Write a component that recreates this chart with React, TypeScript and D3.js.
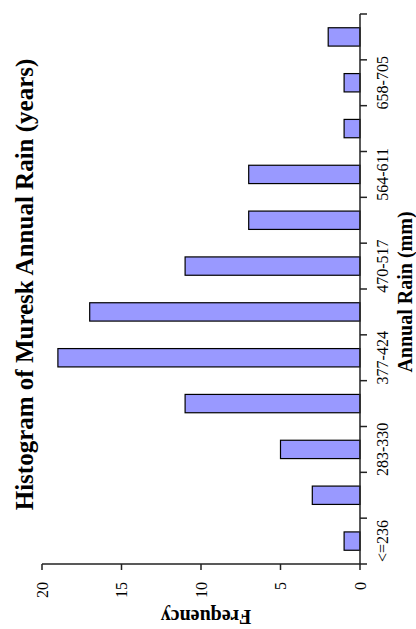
import React from "react";
import * as d3 from "d3";

const categories = ["<=236", "236-283", "283-330", "330-377", "377-424", "424-470", "470-517", "517-564", "564-611", "611-658", "658-705", ">705"];
const frequencies = [1, 3, 5, 11, 19, 17, 11, 7, 7, 1, 1, 2];
const valueTicks = [0, 5, 10, 15, 20];
const titleText = "Histogram of Muresk Annual Rain (years)";
const xTitle = "Annual Rain (mm)";
const yTitle = "Frequency";

const W = 416;
const H = 629;
const FONT = "'Liberation Serif', 'Times New Roman', serif";

export default function App() {
  // Drawn in the un-rotated frame (u along the category axis, v downward), then rotated -90deg.
  const uLeft = 65;
  const uRight = 615;
  const vTop = 42;
  const vBase = 360;

  const x = d3.scaleBand<string>().domain(categories).range([uLeft, uRight]).paddingInner(0.6).paddingOuter(0.3);
  const y = d3.scaleLinear().domain([0, 20]).range([vBase, vTop]);
  const step = x.step();
  const boundaries = d3.range(categories.length + 1).map((i) => uLeft + i * ((uRight - uLeft) / categories.length));

  const axisColor = "#222";

  return (
    <svg width={W} height={H} style={{ position: "absolute", left: 0, top: 0, background: "#fff" }}>
      <g transform={`translate(0,${H}) rotate(-90)`}>
        <text x={344.5} y={33} textAnchor="middle" fontFamily={FONT} fontWeight="bold" fontSize={25} fill="#000">
          {titleText}
        </text>

        {categories.map((c, i) => {
          const bx = uLeft + i * ((uRight - uLeft) / categories.length) + ((uRight - uLeft) / categories.length - x.bandwidth()) / 2;
          return (
            <rect
              key={c}
              x={bx}
              y={y(frequencies[i])}
              width={x.bandwidth()}
              height={vBase - y(frequencies[i])}
              fill="#9999ff"
              stroke="#000"
              strokeWidth={1.2}
            />
          );
        })}

        {/* value axis */}
        <line x1={uLeft} x2={uLeft} y1={vTop} y2={vBase} stroke={axisColor} strokeWidth={1.5} />
        {valueTicks.map((t) => (
          <g key={t}>
            <line x1={uLeft - 6} x2={uLeft} y1={y(t)} y2={y(t)} stroke={axisColor} strokeWidth={1.5} />
            <text x={uLeft - 18} y={y(t)} dy="0.35em" textAnchor="end" fontFamily={FONT} fontSize={16} fill="#000">
              {t}
            </text>
          </g>
        ))}
        <text
          transform={`translate(19,206) rotate(-90)`}
          textAnchor="middle"
          fontFamily={FONT}
          fontWeight="bold"
          fontSize={20}
          fill="#000"
        >
          {yTitle}
        </text>

        {/* category axis */}
        <line x1={uLeft} x2={uRight} y1={vBase} y2={vBase} stroke={axisColor} strokeWidth={1.5} />
        {boundaries.map((b, i) => (
          <line key={i} x1={b} x2={b} y1={vBase} y2={vBase + 7} stroke={axisColor} strokeWidth={1.5} />
        ))}
        {categories.map((c, i) =>
          i % 2 === 0 ? (
            <text
              key={c}
              x={uLeft + (i + 0.5) * ((uRight - uLeft) / categories.length)}
              y={388}
              textAnchor="middle"
              fontFamily={FONT}
              fontSize={16}
              fill="#000"
            >
              {c}
            </text>
          ) : null
        )}
        <text x={337} y={412} textAnchor="middle" fontFamily={FONT} fontWeight="bold" fontSize={20} fill="#000">
          {xTitle}
        </text>
      </g>
    </svg>
  );
}
